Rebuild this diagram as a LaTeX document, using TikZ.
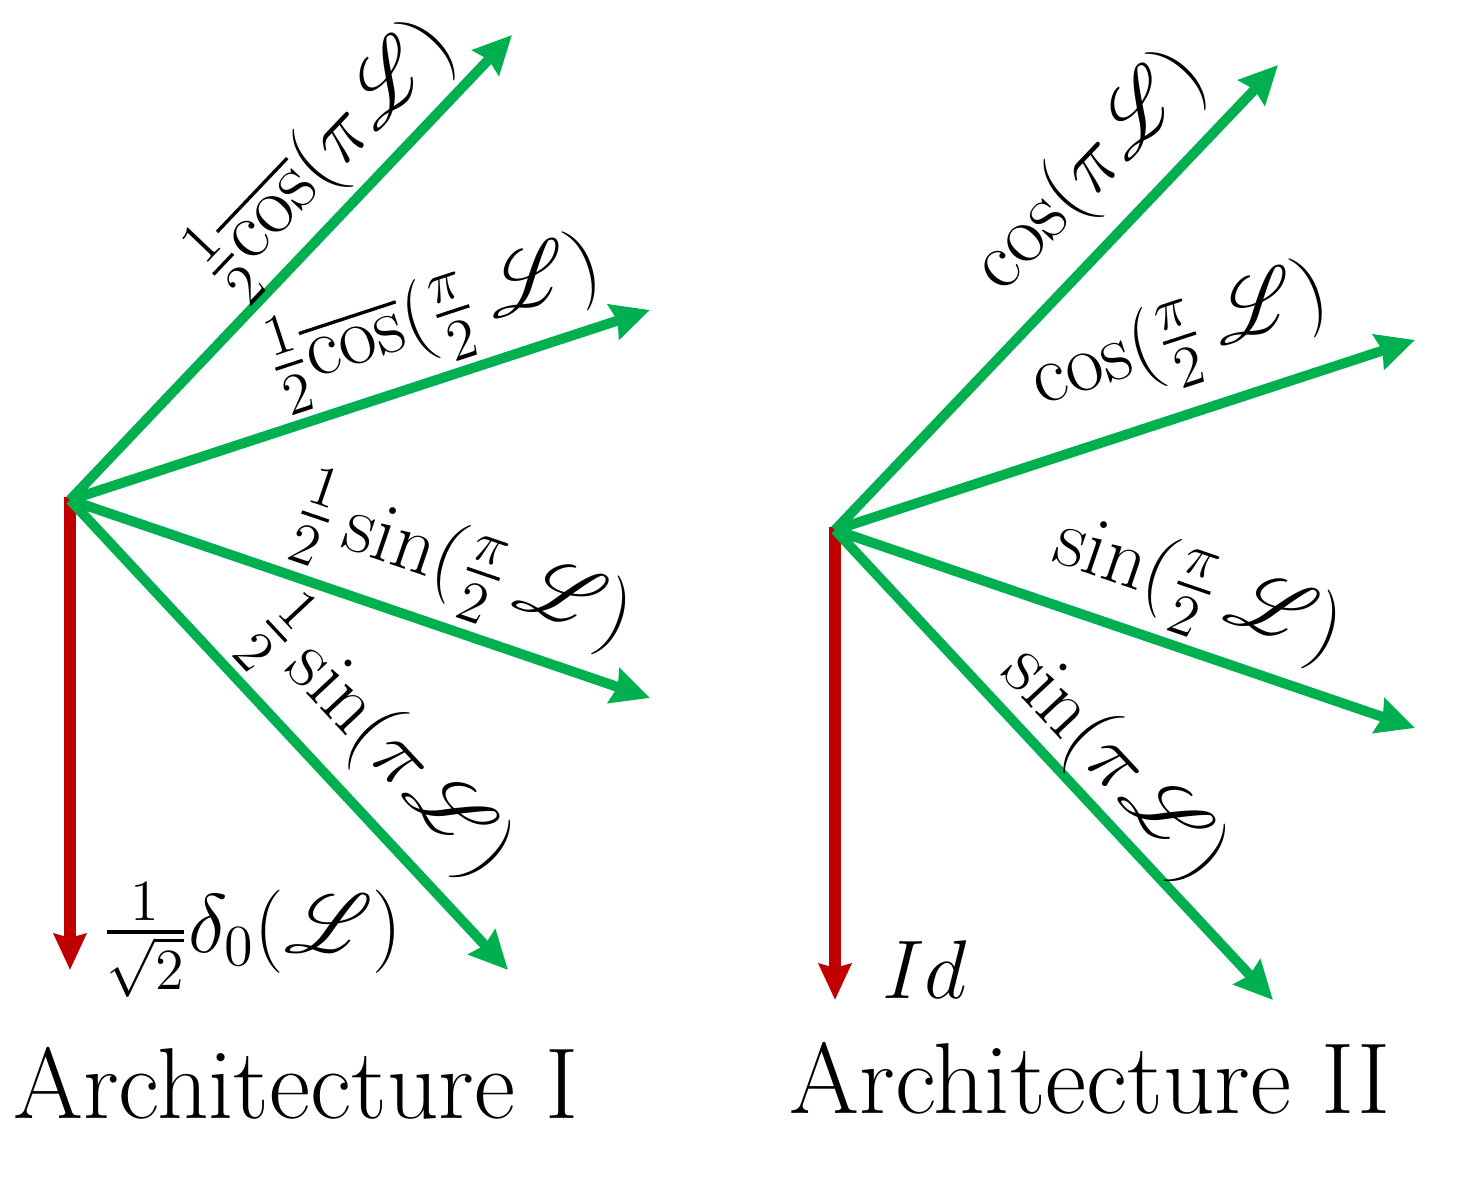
\RequirePackage{fix-cm}
\documentclass[tikz,border=0pt]{standalone}
\usepackage{amsmath}
\usepackage{mathrsfs}
\usetikzlibrary{arrows.meta}
\definecolor{garr}{RGB}{0,176,80}
\definecolor{rarr}{RGB}{192,0,0}
\tikzset{
  garrow/.style={draw=garr, line width=2.5pt, -{Stealth[length=9.5pt,width=9pt,inset=1pt]}},
  rarrow/.style={draw=rarr, line width=3.2pt, -{Stealth[length=9pt,width=8pt,inset=1pt]}},
  lab/.style={inner sep=0pt, font=\fontsize{20.8}{25}\selectfont},
  ttl/.style={inner sep=0pt, font=\fontsize{25.2}{30}\selectfont, anchor=base},
}
\begin{document}
\begin{tikzpicture}[x=0.25pt, y=-0.25pt]
\useasboundingbox (0,0) rectangle (1457,1195);
% Architecture I
\coordinate (O1) at (70,500);
\coordinate (A1) at (512,35);
\coordinate (A2) at (650,310);
\coordinate (A3) at (650,698);
\coordinate (A4) at (508,970);
\coordinate (A5) at (70,970);
\coordinate (O1r) at (70,497);
\draw[rarrow] (O1r) -- (A5);
\draw[garrow] (O1) -- (A1);
\draw[garrow] (O1) -- (A2);
\draw[garrow] (O1) -- (A3);
\draw[garrow] (O1) -- (A4);
\node[lab, rotate=46.45] (l1) at (326,156) {$\frac{1}{2}\overline{\cos}(\pi\mathscr{L})$};
\node[lab, rotate=18.14] (l2) at (435,317) {$\frac{1}{2}\overline{\cos}(\frac{\pi}{2}\,\mathscr{L})$};
\node[lab, rotate=-18.85] (l3) at (463,567) {$\frac{1}{2}\sin(\frac{\pi}{2}\,\mathscr{L})$};
\node[lab, rotate=-47] (l4) at (380,742) {$\frac{1}{2}\sin(\pi\mathscr{L})$};
\node[lab] (l5) at (252,940) {$\frac{1}{\sqrt{2}}\delta_0(\mathscr{L})$};
\node[ttl] (t1) at (296,1119) {Architecture I};
% Architecture II
\coordinate (O2) at (835,530);
\coordinate (B1) at (1278,65);
\coordinate (B2) at (1415,340);
\coordinate (B3) at (1415,728);
\coordinate (B4) at (1273,1000);
\coordinate (B5) at (835,1000);
\coordinate (O2r) at (835,527);
\draw[rarrow] (O2r) -- (B5);
\draw[garrow] (O2) -- (B1);
\draw[garrow] (O2) -- (B2);
\draw[garrow] (O2) -- (B3);
\draw[garrow] (O2) -- (B4);
\node[lab, rotate=46.45] (r1) at (1090,172) {$\cos(\pi\mathscr{L})$};
\node[lab, rotate=18.14] (r2) at (1181,342) {$\cos(\frac{\pi}{2}\,\mathscr{L})$};
\node[lab, rotate=-18.85] (r3) at (1197,593) {$\sin(\frac{\pi}{2}\,\mathscr{L})$};
\node[lab, rotate=-47] (r4) at (1113,765) {$\sin(\pi\mathscr{L})$};
\node[lab] (r5) at (925,970) {$Id$};
\node[ttl] (t2) at (1090,1114) {Architecture II};
\end{tikzpicture}
\end{document}
